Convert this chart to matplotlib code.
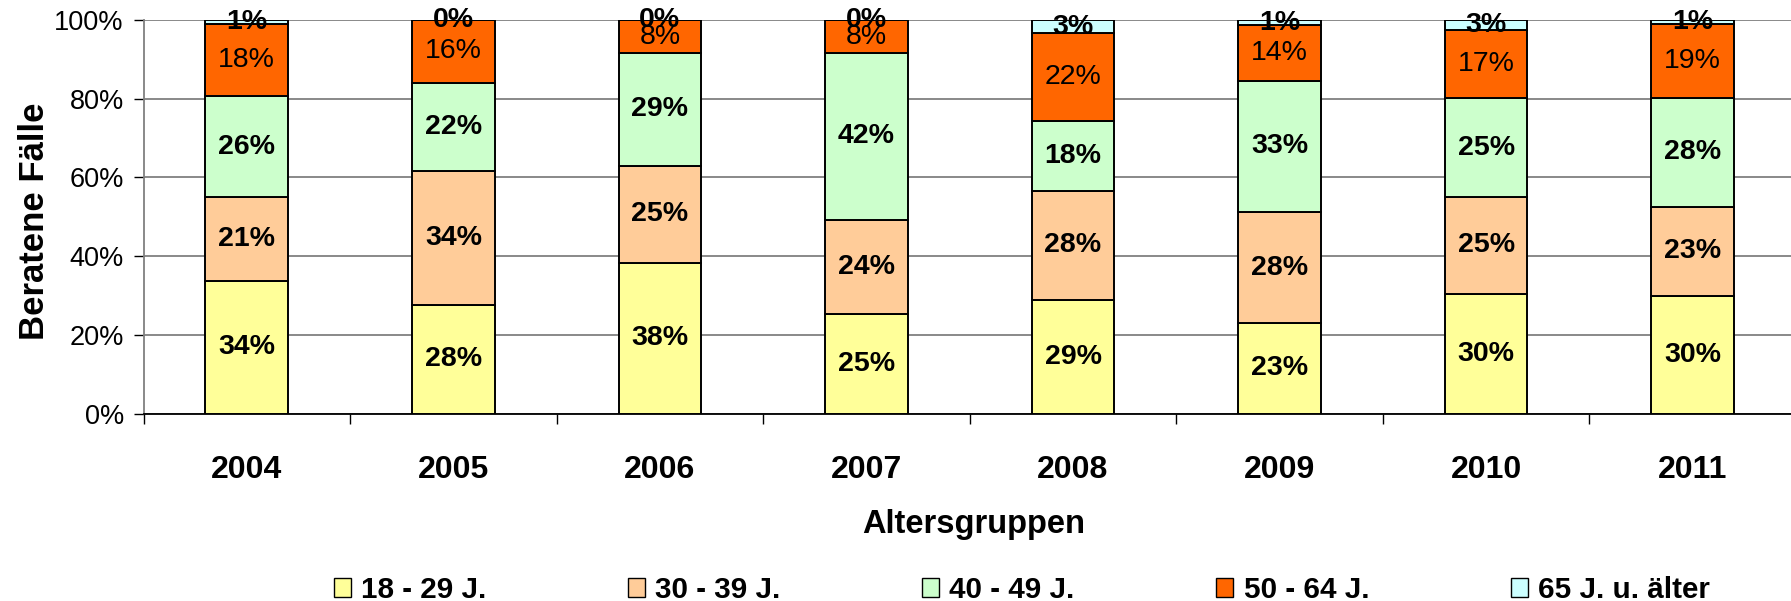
import matplotlib
matplotlib.use("Agg")
import matplotlib.pyplot as plt
import numpy as np
from matplotlib.patches import Patch

plt.rcParams['font.family'] = ['Liberation Sans', 'DejaVu Sans']

years = ["2004", "2005", "2006", "2007", "2008", "2009", "2010", "2011"]
age_groups = ["18 - 29 J.", "30 - 39 J.", "40 - 49 J.", "50 - 64 J.", "65 J. u. älter"]

share_18_29 = [33.6, 27.6, 38.2, 25.4, 28.9, 23.0, 30.4, 29.9]
share_30_39 = [21.4, 34.0, 24.8, 23.8, 27.6, 28.2, 24.6, 22.7]
share_40_49 = [25.7, 22.4, 28.6, 42.4, 17.8, 33.4, 25.1, 27.6]
share_50_64 = [18.3, 16.0, 8.4, 8.4, 22.3, 14.1, 17.3, 18.8]
share_65_plus = [1.0, 0.0, 0.0, 0.0, 3.4, 1.3, 2.6, 1.0]

series = [share_18_29, share_30_39, share_40_49, share_50_64, share_65_plus]
colors = ["#FFFF99", "#FFCC99", "#CCFFCC", "#FF6600", "#CCFFFF"]
label_weights = ["bold", "bold", "bold", "normal", "bold"]

W, H = 1791, 601
fig = plt.figure(figsize=(W / 100, H / 100), dpi=100)
left, right, top, bottom = 143.5, 1796.0, 20.0, 413.5
ax = fig.add_axes([left / W, 1 - bottom / H, (right - left) / W, (bottom - top) / H])

x = np.arange(len(years))
base = np.zeros(len(years))
for vals, col, wt in zip(series, colors, label_weights):
    vals = np.asarray(vals)
    ax.bar(x, vals, width=0.40, bottom=base, color=col, edgecolor="black",
           linewidth=1.4, zorder=3)
    for xi, b, v in zip(x, base, vals):
        ax.text(xi, b + v / 2, f"{v:.0f}%", ha="center", va="center",
                fontsize=20.5, fontweight=wt, color="black", zorder=4, clip_on=False)
    base = base + vals

ax.set_xlim(-0.5, len(years) - 0.5)
ax.set_ylim(0, 100)
ax.set_yticks(np.arange(0, 101, 20))
ax.set_yticklabels([f"{v}%" for v in range(0, 101, 20)], fontsize=19.5)
ax.yaxis.grid(True, color="#808080", linewidth=1.3, zorder=0)
ax.set_axisbelow(True)

ax.set_xticks(x)
ax.set_xticklabels(years, fontsize=23, fontweight="bold")
ax.set_xticks(np.arange(-0.5, len(years), 1.0), minor=True)
ax.tick_params(axis="x", which="major", length=0, pad=30)
ax.tick_params(axis="x", which="minor", length=7.2, width=1.0, direction="out")
ax.tick_params(axis="y", which="major", length=7.2, width=1.0, direction="out", pad=7)

for s in ("top", "right"):
    ax.spines[s].set_visible(False)
ax.spines["left"].set_color("#808080")
ax.spines["left"].set_linewidth(1.3)
ax.spines["bottom"].set_color("black")
ax.spines["bottom"].set_linewidth(1.3)

fig.text(35 / W, 1 - 221 / H, "Beratene Fälle", rotation=90, ha="center", va="center",
         fontsize=25, fontweight="bold")
fig.text(974 / W, 1 - 525 / H, "Altersgruppen", ha="center", va="center",
         fontsize=23.5, fontweight="bold")

handles = [Patch(facecolor=c, edgecolor="black", linewidth=1.0) for c in colors]
fig.legend(handles, age_groups, loc="center left", bbox_to_anchor=(333.5 / W, 1 - 589.5 / H),
           ncol=5, frameon=False, borderpad=0, borderaxespad=0,
           prop={"size": 21.3, "weight": "bold"},
           handlelength=0.575, handleheight=0.61, handletextpad=0.34, columnspacing=4.80)

fig.savefig("out.png", dpi=100)
